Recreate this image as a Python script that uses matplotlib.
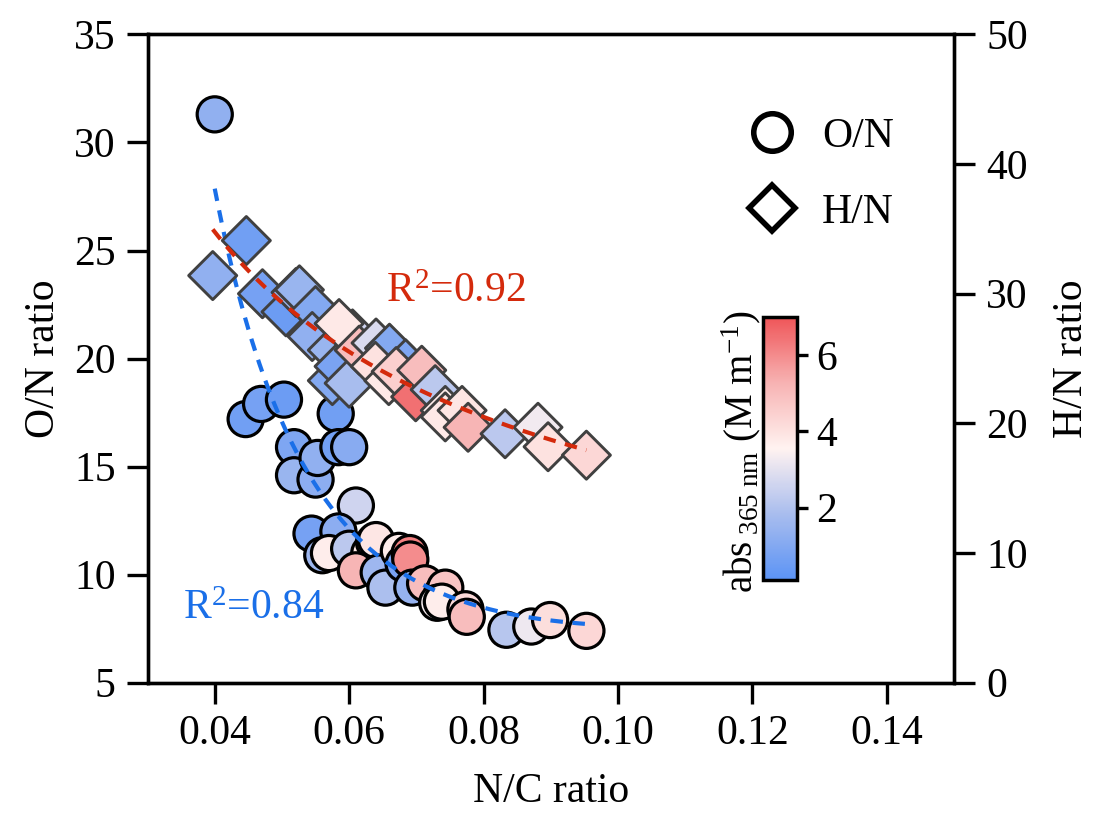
import numpy as np
import matplotlib
matplotlib.use("Agg")
import matplotlib.pyplot as plt
from matplotlib.colors import LinearSegmentedColormap, Normalize
from matplotlib.lines import Line2D

plt.rcParams["font.family"] = ["Liberation Serif", "DejaVu Serif"]
plt.rcParams["mathtext.fontset"] = "custom"
plt.rcParams["mathtext.rm"] = "Liberation Serif"
plt.rcParams["mathtext.it"] = "Liberation Serif:italic"

# O/N ratio (left axis) vs N/C, coloured by abs365
on_nc = [0.0400, 0.0446, 0.0469, 0.0503, 0.0518, 0.0518, 0.0550, 0.0553, 0.0580,
         0.0584, 0.0600, 0.0610, 0.0544, 0.0584, 0.0560, 0.0570, 0.0600, 0.0630,
         0.0637, 0.0640, 0.0610, 0.0644, 0.0654, 0.0674, 0.0681, 0.0690, 0.0691,
         0.0694, 0.0713, 0.0738, 0.0743, 0.0731, 0.0738, 0.0773, 0.0775, 0.0834,
         0.0871, 0.0899, 0.0953]
on_ratio = [31.3, 17.2, 17.9, 18.1, 15.9, 14.6, 14.4, 15.4, 17.45,
            15.9, 15.9, 13.2, 11.9, 12.0, 10.9, 11.0, 11.2, 11.0,
            11.5, 11.6, 10.2, 10.1, 9.4, 11.1, 10.5, 11.0, 10.7,
            9.4, 9.6, 9.1, 9.4, 8.7, 8.75, 8.4, 8.05, 7.45,
            7.6, 7.9, 7.4]
on_abs = [1.3, 0.6, 0.7, 0.5, 0.9, 1.5, 1.2, 1.3, 0.6,
          0.6, 1.1, 2.6, 0.7, 1.2, 1.6, 3.7, 2.2, 3.8,
          3.6, 3.9, 5.2, 1.6, 1.9, 3.7, 0.8, 6.2, 6.0,
          1.4, 5.0, 4.5, 4.8, 3.4, 3.7, 4.2, 5.0, 2.1,
          3.2, 4.1, 4.3]

# H/N ratio (right axis) vs N/C, coloured by abs365
hn_nc = [0.0397, 0.0447, 0.0471, 0.0506, 0.0521, 0.0526, 0.0550, 0.0545, 0.0575,
         0.0575, 0.0585, 0.0605, 0.0600, 0.0585, 0.0615, 0.0640, 0.0660, 0.0639,
         0.0659, 0.0694, 0.0684, 0.0670, 0.0699, 0.0708, 0.0728, 0.0743, 0.0743,
         0.0768, 0.0777, 0.0832, 0.0881, 0.0896, 0.0953]
hn_ratio = [31.4, 34.1, 30.0, 28.6, 30.1, 30.3, 28.7, 26.7, 25.65,
            23.3, 24.4, 26.9, 23.1, 27.7, 25.65, 26.2, 25.8, 24.4,
            23.3, 23.3, 24.6, 24.0, 22.05, 24.1, 22.6, 21.0, 20.5,
            21.0, 19.7, 19.2, 19.7, 18.2, 17.55]
hn_abs = [1.3, 0.6, 0.7, 0.5, 1.6, 1.5, 1.0, 1.3, 1.5,
          1.0, 0.8, 2.6, 1.8, 3.8, 5.0, 2.8, 1.0, 4.0,
          3.8, 0.9, 0.9, 4.5, 6.5, 5.0, 2.2, 3.7, 3.8,
          3.9, 5.2, 2.2, 3.3, 4.0, 4.3]

r2_on = 0.84
r2_hn = 0.92

cmap = LinearSegmentedColormap.from_list(
    "abs", ["#5b93f5", "#a9bdee", "#fff2f0", "#f7b3b3", "#ef5558"])
norm = Normalize(vmin=0.1, vmax=7.0)

fig = plt.figure(figsize=(11.01, 8.19), dpi=100)
ax = fig.add_axes([0.134, 0.1664, 0.7325, 0.7916])
ax2 = ax.twinx()

lw = 2.4
for a in (ax, ax2):
    for s in a.spines.values():
        s.set_linewidth(lw)
    a.tick_params(direction="out", length=15, width=lw, labelsize=30, pad=8)

# fits
on_x = np.array(on_nc)
p_on = np.polyfit(1.0 / on_x, np.array(on_ratio), 2)
xf = np.linspace(on_x.min(), on_x.max(), 200)
ax.plot(xf, np.polyval(p_on, 1.0 / xf), ls=(0, (3, 2.3)), color="#1a6fe8", lw=3, zorder=4)

hn_x = np.array(hn_nc)
p_hn = np.polyfit(np.log(hn_x), np.log(np.array(hn_ratio)), 1)
xf2 = np.linspace(hn_x.min(), hn_x.max(), 200)

ax.scatter(on_nc, on_ratio, c=on_abs, cmap=cmap, norm=norm, s=640,
           marker="o", edgecolors="black", linewidths=2.3, zorder=3)
ax2.scatter(hn_nc, hn_ratio, c=hn_abs, cmap=cmap, norm=norm, s=600,
            marker="D", edgecolors="#404040", linewidths=2.1, zorder=3)
ax2.plot(xf2, np.exp(np.polyval(p_hn, np.log(xf2))), ls=(0, (3, 2.3)),
         color="#d42a0c", lw=3, zorder=4)

ax.set_xlim(0.03, 0.15)
ax.set_ylim(5, 35)
ax2.set_ylim(0, 50)
ax.set_xticks([0.04, 0.06, 0.08, 0.10, 0.12, 0.14])
ax.set_xticklabels(["0.04", "0.06", "0.08", "0.10", "0.12", "0.14"])
ax.set_yticks([5, 10, 15, 20, 25, 30, 35])
ax2.set_yticks([0, 10, 20, 30, 40, 50])

ax.set_xlabel("N/C ratio", fontsize=30, labelpad=14)
ax.set_ylabel("O/N ratio", fontsize=30, labelpad=8)
ax2.set_ylabel("H/N ratio", fontsize=30, labelpad=18)

ax.text(0.0655, 23.1, "R$^2$=%.2f" % r2_hn, color="#d42a0c", fontsize=30,
        ha="left", va="center")
ax.text(0.0353, 8.4, "R$^2$=%.2f" % r2_on, color="#1a6fe8", fontsize=30,
        ha="left", va="center")

handles = [Line2D([], [], marker="o", ls="none", mfc="none", mec="black", mew=4, ms=27),
           Line2D([], [], marker="D", ls="none", mfc="none", mec="black", mew=4, ms=23)]
ax2.legend(handles, ["O/N", "H/N"], loc="upper right", bbox_to_anchor=(0.972, 0.93),
           frameon=False, fontsize=30, labelspacing=0.9, handletextpad=0.2)

cax = fig.add_axes([763 / 1101, 1 - 580 / 819, 34 / 1101, 263 / 819])
sm = plt.cm.ScalarMappable(cmap=cmap, norm=norm)
cb = fig.colorbar(sm, cax=cax, ticks=[2, 4, 6])
cb.outline.set_linewidth(2.5)
cax.tick_params(direction="out", length=8, width=2.4, labelsize=30, pad=6)
fig.text(741 / 1101, 1 - 452 / 819, "abs$_{\\mathrm{\\ 365\\ nm}}$ (M m$^{\\mathrm{-1}}$)",
         rotation=90, ha="center", va="center", fontsize=28)

fig.savefig("out.png", dpi=100)
